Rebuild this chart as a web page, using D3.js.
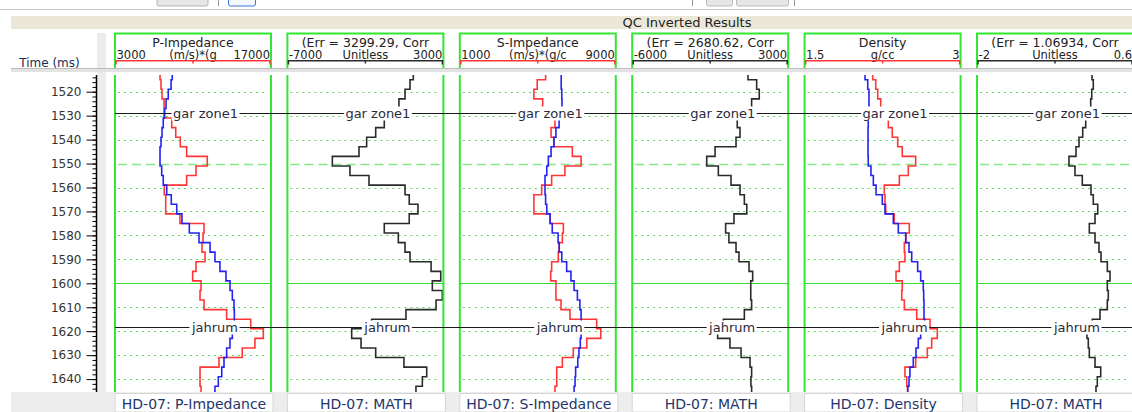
<!DOCTYPE html>
<html>
<head>
<meta charset="utf-8">
<script src="https://d3js.org/d3.v7.min.js"></script>
<style>
  body { margin: 0; background: #fff; }
  svg { display: block; font-family: "DejaVu Sans", sans-serif; }
</style>
</head>
<body>
<div id="chart"></div>
<script>
// top of each 4 ms sample (ms); last sample ends at timeEnd
const times = [1511, 1515, 1519, 1523, 1527, 1531, 1535, 1539, 1543, 1547, 1551, 1555,
  1559, 1563, 1567, 1571, 1575, 1579, 1583, 1587, 1591, 1595, 1599, 1603, 1607, 1611,
  1615, 1619, 1623, 1627, 1631, 1635, 1639, 1643];
const timeEnd = 1647;
const timeTicks = [1520, 1530, 1540, 1550, 1560, 1570, 1580, 1590, 1600, 1610, 1620, 1630, 1640];
const dashedTimes = [1550];
const solidTimes = [1600];

// P-Impedance: log (red) and inverted (blue)
const pImpLog = [7040, 7130, 7220, 7400, 7400, 8090, 8450, 8860, 9430, 11280, 10270, 9430,
  7420, 7550, 7550, 8830, 10990, 10900, 10810, 11080, 10270, 9970, 10720, 10630, 10990,
  13020, 15180, 16310, 15560, 14420, 12330, 10630, 10630, 10720];
const pImpInv = [8140, 8030, 7780, 7580, 7460, 7330, 7220, 7130, 7040, 7040, 7190, 7330,
  7640, 8050, 8540, 9010, 9670, 10540, 11530, 11970, 12420, 12960, 13320, 13530, 13680,
  13710, 13710, 13530, 13320, 13020, 12780, 12580, 12270, 11970];
const pImpMath = [1070, 860, 540, 150, -300, -790, -1340, -1920, -2410, -4120, -2990, -1770,
  540, 810, 1370, 810, -790, 110, 540, 860, 2210, 2830, 2290, 2930, 2530, 600, -1600,
  -2880, -2280, -1340, 470, 1930, 1650, 1240];

// S-Impedance
const sImpLog = [5400, 4970, 4800, 5250, 5520, 5880, 5680, 5830, 6770, 7220, 6390, 5710,
  5200, 4800, 4800, 5630, 6310, 6260, 6090, 6050, 5710, 5660, 5930, 5930, 6190, 6650,
  8020, 8230, 7510, 6820, 6260, 5970, 5970, 5880];
const sImpInv = [6200, 6200, 6230, 6240, 6140, 6090, 5930, 5830, 5680, 5540, 5460, 5370,
  5370, 5400, 5460, 5630, 5740, 6040, 6100, 6230, 6480, 6700, 6860, 7030, 7160, 7220,
  7230, 7220, 7180, 7110, 7050, 6940, 6910, 6860];
const sImpMath = [680, 1180, 1330, 890, -70, 60, 220, -10, -1220, -1700, -1030, -300,
  220, 470, 610, -130, -610, -420, -10, 160, 740, 950, 840, 840, 890, 470, -740, -1070,
  -360, 280, 800, 890, 850, 890];

// Density
const densLog = [2.155, 2.184, 2.203, 2.232, 2.273, 2.305, 2.343, 2.395, 2.439, 2.568,
  2.497, 2.411, 2.266, 2.273, 2.280, 2.362, 2.507, 2.475, 2.459, 2.465, 2.411, 2.379,
  2.439, 2.434, 2.459, 2.578, 2.706, 2.776, 2.722, 2.680, 2.568, 2.465, 2.482, 2.491];
const densInv = [2.081, 2.107, 2.119, 2.119, 2.116, 2.112, 2.110, 2.110, 2.110, 2.112,
  2.138, 2.161, 2.187, 2.247, 2.273, 2.353, 2.401, 2.472, 2.504, 2.530, 2.587, 2.616,
  2.641, 2.645, 2.648, 2.648, 2.655, 2.616, 2.593, 2.571, 2.545, 2.513, 2.504, 2.491];
const densMath = [-0.083, -0.062, -0.088, -0.105, -0.167, -0.188, -0.238, -0.300, -0.350,
  -0.467, -0.367, -0.245, -0.100, -0.062, 0.012, -0.033, -0.128, -0.033, 0.033, 0.067,
  0.172, 0.217, 0.172, 0.188, 0.172, 0.050, -0.078, -0.167, -0.145, -0.128, -0.033,
  0.062, 0.005, -0.017];

// track headers
const trackTitles = ["P-Impedance", "(Err = 3299.29, Corr", "S-Impedance",
  "(Err = 2680.62, Corr", "Density", "(Err = 1.06934, Corr"];
const trackUnits = ["(m/s)*(g", "Unitless", "(m/s)*(g/c", "Unitless", "g/cc", "Unitless"];
const scaleMin = [3000, -7000, 1000, -6000, 1.5, -2];
const scaleMax = [17000, 3000, 9000, 3000, 3, 0.6];
const minLabels = ["3000", "-7000", "1000", "-6000", "1.5", "-2"];
const maxLabels = ["17000", "3000", "9000", "3000", "3", "0.6"];
const footers = ["HD-07: P-Impedance", "HD-07: MATH", "HD-07: S-Impedance",
  "HD-07: MATH", "HD-07: Density", "HD-07: MATH"];

// horizons
const markerNames = ["gar zone1", "jahrum"];
const markerTimes = [1528.9, 1618.4];

const RED = "#ff3636", BLUE = "#2424f0", BLACK = "#2b2b2b", GREEN = "#33e633";
const trackCurves = [
  [{ v: pImpLog, c: RED }, { v: pImpInv, c: BLUE }],
  [{ v: pImpMath, c: BLACK }],
  [{ v: sImpLog, c: RED }, { v: sImpInv, c: BLUE }],
  [{ v: sImpMath, c: BLACK }],
  [{ v: densLog, c: RED }, { v: densInv, c: BLUE }],
  [{ v: densMath, c: BLACK }]
];

const width = 1132, height = 412;
const plotTop = 75, plotBottom = 392;

const svg = d3.select("#chart").append("svg")
  .attr("width", width)
  .attr("height", height);

const xTrack = d3.scaleBand()
  .domain(d3.range(trackTitles.length))
  .range([115, 1133])
  .paddingInner(0.0951)
  .paddingOuter(0);
const W = xTrack.bandwidth();

const y = d3.scaleLinear()
  .domain([1520, 1640])
  .range([91.7, 379.1]);

// ---- window chrome ----
svg.append("line").attr("x1", 0).attr("x2", width).attr("y1", 9.5).attr("y2", 9.5)
  .attr("stroke", "#c9c9c9");
svg.append("rect").attr("x", 157).attr("y", -3).attr("width", 51).attr("height", 9).attr("rx", 2)
  .attr("fill", "#e6e6e6").attr("stroke", "#b5b5b5");
svg.append("line").attr("x1", 218.5).attr("x2", 218.5).attr("y1", 0).attr("y2", 6).attr("stroke", "#999");
svg.append("rect").attr("x", 228.5).attr("y", -3).attr("width", 27).attr("height", 9).attr("rx", 2)
  .attr("fill", "#f4f8ff").attr("stroke", "#3c72d8");
svg.append("line").attr("x1", 692.5).attr("x2", 692.5).attr("y1", 0).attr("y2", 6).attr("stroke", "#999");
svg.append("rect").attr("x", 706.5).attr("y", -3).attr("width", 26).attr("height", 9).attr("rx", 2)
  .attr("fill", "#e6e6e6").attr("stroke", "#bbb");
svg.append("rect").attr("x", 736.5).attr("y", -3).attr("width", 52).attr("height", 9).attr("rx", 2)
  .attr("fill", "#e6e6e6").attr("stroke", "#bbb");
svg.append("line").attr("x1", 794.5).attr("x2", 794.5).attr("y1", 0).attr("y2", 6).attr("stroke", "#999");

// banner
svg.append("rect").attr("x", 11).attr("y", 16).attr("width", width - 11).attr("height", 13)
  .attr("fill", "#ebe8d9");
svg.append("text").attr("x", 687).attr("y", 27).attr("text-anchor", "middle")
  .style("font-size", "13px").attr("fill", "#222").text("QC Inverted Results");

// gray frame pieces
svg.append("rect").attr("x", 97).attr("y", 33).attr("width", 9).attr("height", plotBottom - 33)
  .attr("fill", "#ececec");
svg.append("rect").attr("x", 11).attr("y", 68).attr("width", width - 11).attr("height", 4)
  .attr("fill", "#e3e3e3");
svg.append("line").attr("x1", 11).attr("x2", width).attr("y1", 68.5).attr("y2", 68.5)
  .attr("stroke", "#bdbdbd");
svg.append("rect").attr("x", 11).attr("y", plotBottom).attr("width", width - 11).attr("height", height - plotBottom)
  .attr("fill", "#ededed");

// time header
svg.append("text").attr("x", 49.5).attr("y", 66.5).attr("text-anchor", "middle")
  .style("font-size", "12px").attr("fill", "#1e2c55").text("Time (ms)");

// ---- time axis ----
const axisX = 96.5;
svg.append("line").attr("x1", axisX).attr("x2", axisX).attr("y1", plotTop).attr("y2", plotBottom)
  .attr("stroke", "#000").attr("stroke-width", 1.5);

const minorAxis = svg.append("g")
  .attr("transform", `translate(${axisX},0)`)
  .call(d3.axisLeft(y).tickValues(d3.range(1514, 1646, 2)).tickSize(4).tickFormat(""));
minorAxis.select(".domain").remove();

const majorAxis = svg.append("g")
  .attr("transform", `translate(${axisX},0)`)
  .call(d3.axisLeft(y).tickValues(timeTicks).tickSize(10).tickPadding(5).tickFormat(d3.format("d")));
majorAxis.select(".domain").remove();
majorAxis.selectAll("line").attr("stroke", "#000");
majorAxis.selectAll("text")
  .style("font-size", "12px")
  .style("font-family", "DejaVu Sans, sans-serif")
  .attr("fill", "#333");

// ---- tracks ----
svg.append("clipPath").attr("id", "dataClip")
  .append("rect").attr("x", 107).attr("y", plotTop).attr("width", width - 107).attr("height", plotBottom - plotTop);

const dataLayer = svg.append("g").attr("clip-path", "url(#dataClip)");

trackTitles.forEach((title, i) => {
  const L = xTrack(i);
  const x = d3.scaleLinear().domain([scaleMin[i], scaleMax[i]]).range([L, L + W]);
  const scaleColor = trackCurves[i].length > 1 ? RED : BLACK;

  // header box
  const h = svg.append("g");
  h.append("path")
    .attr("d", `M${L},68V33.5H${L + W}V68`)
    .attr("fill", "none").attr("stroke", GREEN).attr("stroke-width", 2);
  h.append("text").attr("x", L + W / 2).attr("y", 47).attr("text-anchor", "middle")
    .style("font-size", "12.5px").attr("fill", "#222").text(title);
  h.append("text").attr("x", L + 1.5).attr("y", 58.8)
    .style("font-size", "11.5px").attr("fill", "#222").text(minLabels[i]);
  h.append("text").attr("x", L + W / 2).attr("y", 58.8).attr("text-anchor", "middle")
    .style("font-size", "11.5px").attr("fill", "#222").text(trackUnits[i]);
  h.append("text").attr("x", L + W - 1).attr("y", 58.8).attr("text-anchor", "end")
    .style("font-size", "11.5px").attr("fill", "#222").text(maxLabels[i]);
  h.append("path")
    .attr("d", `M${L + 1},64.5V60.8H${L + W - 1}V64.5M${x((scaleMin[i] + scaleMax[i]) / 2)},60.8V63.5`)
    .attr("fill", "none").attr("stroke", scaleColor).attr("stroke-width", 1.5);

  // grid
  const g = dataLayer.append("g");
  timeTicks.forEach(t => {
    const solid = solidTimes.includes(t), dashed = dashedTimes.includes(t);
    g.append("line")
      .attr("x1", solid ? L : L + 3).attr("x2", solid ? L + W : L + W - 3)
      .attr("y1", Math.round(y(t)) + 0.5).attr("y2", Math.round(y(t)) + 0.5)
      .attr("stroke", solid ? "#33dd33" : dashed ? "#88e888" : "#55dd55")
      .attr("stroke-width", solid ? 1 : dashed ? 1.5 : 1)
      .attr("stroke-dasharray", solid ? null : dashed ? "9,5" : "2,4");
  });

  // curves
  trackCurves[i].forEach(cv => {
    const pts = times.map((t, j) => ({ t: t, v: cv.v[j] }));
    pts.push({ t: timeEnd, v: cv.v[cv.v.length - 1] });
    const line = d3.line()
      .x(d => x(d.v))
      .y(d => y(d.t))
      .curve(d3.curveStepBefore);
    g.append("path")
      .datum(pts)
      .attr("d", line)
      .attr("fill", "none")
      .attr("stroke", cv.c)
      .attr("stroke-width", 1.6);
  });

  // track borders
  dataLayer.append("line").attr("x1", L).attr("x2", L).attr("y1", plotTop).attr("y2", plotBottom)
    .attr("stroke", GREEN).attr("stroke-width", 2);
  dataLayer.append("line").attr("x1", L + W).attr("x2", L + W).attr("y1", plotTop).attr("y2", plotBottom)
    .attr("stroke", GREEN).attr("stroke-width", 2);

  // footer
  svg.append("rect").attr("x", L).attr("y", 393.5).attr("width", W + 2).attr("height", height - 393.5)
    .attr("fill", "#fff").attr("stroke", "#d6d6d6");
  svg.append("clipPath").attr("id", "foot" + i)
    .append("rect").attr("x", L + 1).attr("y", 393).attr("width", W).attr("height", 20);
  svg.append("text").attr("x", L + W / 2 + 1).attr("y", 409).attr("text-anchor", "middle")
    .attr("clip-path", `url(#foot${i})`)
    .style("font-size", "14px").attr("fill", "#24356a").text(footers[i]);
});

// ---- horizons ----
markerTimes.forEach((mt, m) => {
  const my = Math.round(y(mt)) + 0.5;
  dataLayer.append("line").attr("x1", 115).attr("x2", width).attr("y1", my).attr("y2", my)
    .attr("stroke", "#1a1a1a").attr("stroke-width", 1);
  trackTitles.forEach((d, i) => {
    const lg = dataLayer.append("g");
    const bg = lg.append("rect").attr("fill", "#fff");
    const txt = lg.append("text")
      .attr("x", xTrack(i) + 123).attr("y", my + 4.5)
      .attr("text-anchor", "end")
      .style("font-size", "13px").attr("fill", "#2a2a3a")
      .text(markerNames[m]);
    const bb = txt.node().getBBox();
    bg.attr("x", bb.x - 1.5).attr("y", my - 7).attr("width", bb.width + 3).attr("height", 14);
  });
});
</script>
</body>
</html>
